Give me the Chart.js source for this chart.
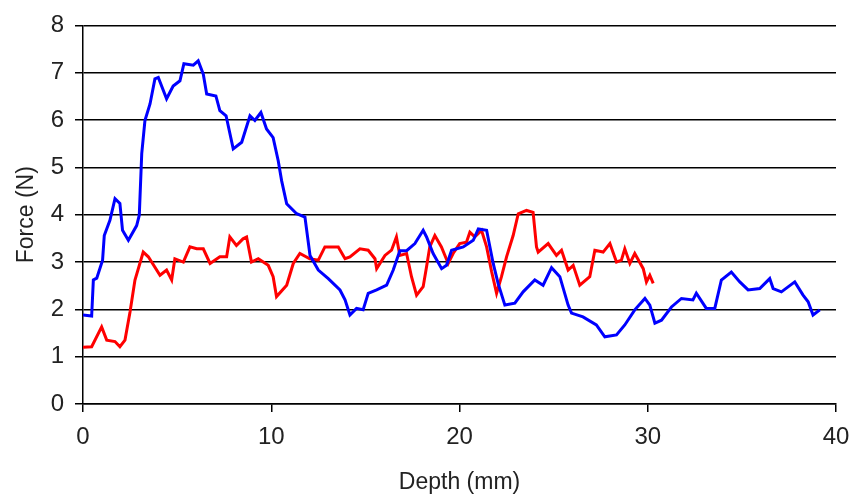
<!DOCTYPE html>
<html lang="en">
<head>
    <meta charset="UTF-8">
    <title>Force vs Depth</title>
    <script src="https://cdn.jsdelivr.net/npm/chart.js"></script>
    <style>
        html, body { margin: 0; padding: 0; background: #fff; }
        #wrap { width: 850px; height: 494px; position: relative; }
    </style>
</head>
<body>
    <div id="wrap"><canvas id="forceChart"></canvas></div>
    <script>
        // blue trace
        const blueDepth = [0, 0.46, 0.55, 0.73, 1.04, 1.13, 1.43, 1.7, 1.96, 2.1, 2.41, 2.85, 2.99, 3.12, 3.29, 3.56, 3.82, 4.0, 4.44, 4.79,
            5.15, 5.36, 5.86, 6.12, 6.39, 6.57, 7.06, 7.27, 7.6, 7.98, 8.43, 8.87, 9.13, 9.45, 9.75, 10.1, 10.37, 10.55, 10.82, 11.35,
            11.79, 12.06, 12.5, 13.03, 13.65, 13.92, 14.18, 14.53, 14.88, 15.15, 15.6, 16.13, 16.48, 16.83, 17.19, 17.63, 18.07, 18.25, 18.6, 19.05,
            19.31, 19.58, 20.2, 20.73, 21.0, 21.44, 21.79, 22.05, 22.41, 22.94, 23.38, 24.0, 24.44, 24.89, 25.33, 25.77, 25.95, 26.56, 27.27, 27.72,
            28.34, 28.78, 29.31, 29.85, 30.11, 30.38, 30.73, 31.26, 31.79, 32.4, 32.58, 33.11, 33.56, 33.91, 34.44, 34.89, 35.33, 35.95, 36.48, 36.66,
            37.1, 37.81, 38.25, 38.52, 38.78, 39.14];
        const blueForce = [1.88, 1.86, 2.62, 2.66, 3.04, 3.56, 3.88, 4.34, 4.24, 3.67, 3.46, 3.77, 3.99, 5.29, 5.99, 6.34, 6.87, 6.9, 6.45, 6.72,
            6.83, 7.19, 7.16, 7.25, 6.97, 6.55, 6.51, 6.2, 6.09, 5.39, 5.53, 6.09, 5.99, 6.16, 5.81, 5.63, 5.14, 4.72, 4.23, 4.02,
            3.95, 3.14, 2.83, 2.65, 2.41, 2.2, 1.88, 2.02, 1.99, 2.34, 2.41, 2.51, 2.83, 3.24, 3.24, 3.39, 3.67, 3.53, 3.18, 2.86,
            2.93, 3.25, 3.32, 3.46, 3.7, 3.67, 2.97, 2.55, 2.09, 2.13, 2.37, 2.62, 2.51, 2.88, 2.69, 2.09, 1.92, 1.84, 1.67, 1.42,
            1.46, 1.67, 1.99, 2.23, 2.09, 1.71, 1.77, 2.05, 2.23, 2.2, 2.34, 2.02, 2.02, 2.62, 2.79, 2.58, 2.41, 2.44, 2.65, 2.44,
            2.37, 2.58, 2.3, 2.16, 1.88, 1.99];

        // red trace
        const redDepth = [0, 0.46, 0.99, 1.26, 1.7, 1.96, 2.23, 2.5, 2.76, 3.2, 3.47, 4.09, 4.44, 4.71, 4.88, 5.33, 5.68, 6.04, 6.39, 6.75,
            7.27, 7.63, 7.8, 8.15, 8.5, 8.69, 8.95, 9.31, 9.84, 10.1, 10.28, 10.82, 11.17, 11.52, 12.05, 12.5, 12.85, 13.56, 13.92, 14.18,
            14.71, 15.15, 15.51, 15.6, 16.04, 16.39, 16.65, 16.83, 17.19, 17.45, 17.72, 18.07, 18.25, 18.42, 18.69, 19.04, 19.4, 19.66, 20.01, 20.37,
            20.55, 20.81, 21.17, 21.44, 21.71, 21.97, 22.23, 22.5, 22.85, 23.12, 23.56, 23.91, 24.09, 24.18, 24.71, 25.15, 25.42, 25.77, 26.04, 26.39,
            26.92, 27.19, 27.63, 27.99, 28.34, 28.6, 28.78, 29.05, 29.31, 29.76, 29.93, 30.11, 30.29];
        const redForce = [1.2, 1.21, 1.63, 1.35, 1.32, 1.21, 1.35, 1.95, 2.62, 3.21, 3.11, 2.72, 2.83, 2.62, 3.07, 3.0, 3.32, 3.28, 3.28, 2.97,
            3.11, 3.11, 3.53, 3.35, 3.49, 3.53, 3.0, 3.07, 2.93, 2.69, 2.27, 2.51, 2.97, 3.18, 3.07, 3.04, 3.32, 3.32, 3.07, 3.11,
            3.28, 3.25, 3.07, 2.86, 3.14, 3.25, 3.53, 3.14, 3.18, 2.69, 2.3, 2.48, 2.9, 3.32, 3.56, 3.32, 2.97, 3.18, 3.39, 3.42,
            3.63, 3.53, 3.67, 3.32, 2.79, 2.34, 2.69, 3.11, 3.56, 4.02, 4.09, 4.05, 3.32, 3.21, 3.39, 3.14, 3.25, 2.83, 2.93, 2.51,
            2.69, 3.25, 3.21, 3.39, 3.0, 3.04, 3.28, 2.97, 3.18, 2.86, 2.58, 2.72, 2.55];

        const xTicks = [0, 10, 20, 30, 40];
        const yTicks = [0, 1, 2, 3, 4, 5, 6, 7, 8];

        function toPoints(xs, ys) {
            return xs.map((x, i) => ({ x: x, y: ys[i] }));
        }

        const fontFamily = '"Liberation Sans", Arial, sans-serif';
        const tickFont = { family: fontFamily, size: 24 };
        const titleFont = { family: fontFamily, size: 23, lineHeight: 1 };

        new Chart(document.getElementById('forceChart'), {
            type: 'line',
            data: {
                datasets: [
                    {
                        label: 'Blue',
                        data: toPoints(blueDepth, blueForce),
                        borderColor: '#0000ff',
                        borderWidth: 3,
                        pointRadius: 0,
                        tension: 0
                    },
                    {
                        label: 'Red',
                        data: toPoints(redDepth, redForce),
                        borderColor: '#ff0000',
                        borderWidth: 3,
                        pointRadius: 0,
                        tension: 0
                    }
                ]
            },
            options: {
                responsive: true,
                maintainAspectRatio: false,
                animation: false,
                layout: { padding: { top: 21, right: 14, left: 0, bottom: 0 } },
                plugins: {
                    legend: { display: false },
                    tooltip: { enabled: false }
                },
                scales: {
                    x: {
                        type: 'linear',
                        min: 0,
                        max: 40,
                        afterBuildTicks: (scale) => { scale.ticks = xTicks.map(v => ({ value: v })); },
                        afterFit: (scale) => {
                            scale.height = 90;
                            scale.paddingLeft = 0;
                            scale.paddingRight = 0;
                        },
                        border: { display: true, color: '#000', width: 1.5 },
                        grid: { drawOnChartArea: false, drawTicks: true, tickLength: 8, color: '#000', lineWidth: 1.5 },
                        ticks: { color: '#222', font: tickFont, padding: 11, maxRotation: 0 },
                        title: { display: true, text: 'Depth (mm)', color: '#222', font: titleFont, padding: { top: 0, bottom: 0 } }
                    },
                    y: {
                        min: 0,
                        max: 8,
                        afterBuildTicks: (scale) => { scale.ticks = yTicks.map(v => ({ value: v })); },
                        afterFit: (scale) => { scale.width = 83; },
                        border: { display: true, color: '#000', width: 1.5 },
                        grid: { color: '#000', lineWidth: 1.5, drawTicks: true, tickLength: 8, tickColor: '#000' },
                        ticks: { color: '#222', font: tickFont, padding: 11 },
                        title: { display: true, text: 'Force (N)', color: '#222', font: titleFont, padding: { top: 15, bottom: 0 } }
                    }
                }
            }
        });
    </script>
</body>
</html>
